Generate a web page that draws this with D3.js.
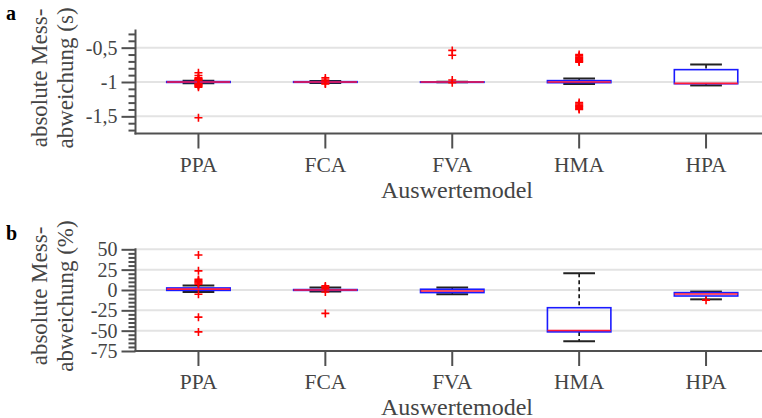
<!DOCTYPE html>
<html>
<head>
<meta charset="utf-8">
<script src="https://cdn.jsdelivr.net/npm/d3@7"></script>
<style>
  html, body { margin: 0; padding: 0; background: #fff; }
  svg { display: block; font-family: "Liberation Serif", "Times New Roman", serif; }
</style>
</head>
<body>
<svg id="chart" width="762" height="418"></svg>
<script>
// Evaluation models (x categories)
const models = ["PPA", "FCA", "FVA", "HMA", "HPA"];

// Panel a: absolute deviation in seconds – box statistics per model
const secLowWhisker = [-1.02, -1.015, -1.003, -1.03, -1.05];
const secQ1         = [-1.006, -1.005, -1.002, -1.01, -1.025];
const secMedian     = [-1.0, -1.0, -1.0, -1.0, -1.02];
const secQ3         = [-0.994, -0.995, -0.998, -0.98, -0.82];
const secHighWhisker= [-0.98, -0.985, -0.997, -0.95, -0.745];
const secOutliers = [
  [-0.865, -0.905, -0.94, -0.955, -0.965, -0.975, -1.025, -1.035, -1.045, -1.06, -1.075, -1.52],
  [-0.94, -0.97, -0.985, -1.02, -1.03],
  [-0.54, -0.61, -0.97, -1.01],
  [-0.6, -0.62, -0.64, -0.655, -0.67, -0.685, -0.7, -0.71, -1.3, -1.32, -1.34, -1.355, -1.37, -1.39, -1.4],
  []
];

// Panel b: absolute deviation in percent – box statistics per model
const pctLowWhisker = [-2.5, -2, -5.3, -63, -11.5];
const pctQ1         = [-0.5, -0.5, -3.2, -51.5, -7.4];
const pctMedian     = [1, 0, -1.2, -49.8, -5];
const pctQ3         = [2.5, 0.5, 0.9, -21.8, -3.2];
const pctHighWhisker= [5.5, 3, 3, 20.7, -2];
const pctOutliers = [
  [43, 23.5, 13, 11.5, 10, 8.5, 7, -5.3, -33.4, -51.5],
  [5, 3.5, 1.5, -2.5, -28.8],
  [],
  [],
  [-12.5]
];

// Axis ticks and labels
const secMajorTicks = [-0.5, -1, -1.5];
const secMajorLabels = ["-0,5", "-1", "-1,5"];
const secMinorTicks = [-0.3, -0.4, -0.6, -0.7, -0.8, -0.9, -1.1, -1.2, -1.3, -1.4, -1.6, -1.7];
const pctMajorTicks = [50, 25, 0, -25, -50, -75];
const pctMajorLabels = ["50", "25", "0", "-25", "-50", "-75"];
const pctMinorTicks = d3.range(-70, 50, 5).filter(v => v % 25 !== 0);

const xTitle = "Auswertemodel";

const svg = d3.select("#chart");
svg.append("rect").attr("width", 762).attr("height", 418).attr("fill", "#fff");

const axisColor = "#505050";
const textColor = "#444";

const x = d3.scaleBand().domain(models).range([135, 769.5]).padding(0);
const bw = x.bandwidth();
const cx = d => x(d) + bw / 2;

function panel(opts) {
  const g = svg.append("g");
  const y = d3.scaleLinear().domain(opts.domain).range(opts.range);
  const left = 135.5;

  // grid lines
  g.append("g").selectAll("line")
    .data(opts.grid)
    .join("line")
    .attr("x1", left).attr("x2", 762)
    .attr("y1", d => y(d)).attr("y2", d => y(d))
    .attr("stroke", "#e3e3e3").attr("stroke-width", 2);

  // boxes
  const rows = models.map((m, i) => ({
    m, lo: opts.lo[i], q1: opts.q1[i], med: opts.med[i], q3: opts.q3[i], hi: opts.hi[i], out: opts.out[i]
  }));
  const boxes = g.append("g").selectAll("g").data(rows).join("g");

  // whiskers (dashed)
  boxes.append("line")
    .attr("x1", d => cx(d.m)).attr("x2", d => cx(d.m))
    .attr("y1", d => y(d.hi)).attr("y2", d => y(d.q3))
    .attr("stroke", "#000").attr("stroke-width", 1.5).attr("stroke-dasharray", "4,3");
  boxes.append("line")
    .attr("x1", d => cx(d.m)).attr("x2", d => cx(d.m))
    .attr("y1", d => y(d.q1)).attr("y2", d => y(d.lo))
    .attr("stroke", "#000").attr("stroke-width", 1.5).attr("stroke-dasharray", "4,3");
  // whisker caps
  for (const key of ["hi", "lo"]) {
    boxes.append("line")
      .attr("x1", d => cx(d.m) - bw / 8).attr("x2", d => cx(d.m) + bw / 8)
      .attr("y1", d => y(d[key])).attr("y2", d => y(d[key]))
      .attr("stroke", "#222").attr("stroke-width", 2);
  }
  // box
  boxes.append("rect")
    .attr("x", d => cx(d.m) - bw / 4)
    .attr("width", bw / 2)
    .attr("y", d => y(d.q3))
    .attr("height", d => Math.max(0.5, y(d.q1) - y(d.q3)))
    .attr("fill", "none").attr("stroke", "#1a1aff").attr("stroke-width", 1.6);
  // median
  boxes.append("line")
    .attr("x1", d => cx(d.m) - bw / 4).attr("x2", d => cx(d.m) + bw / 4)
    .attr("y1", d => y(d.med)).attr("y2", d => y(d.med))
    .attr("stroke", "#ff1a3a").attr("stroke-width", 1.6);
  // outliers
  boxes.selectAll("path.out")
    .data(d => d.out.map(v => ({ m: d.m, v })))
    .join("path")
    .attr("class", "out")
    .attr("transform", d => `translate(${cx(d.m)},${y(d.v)})`)
    .attr("d", "M-4,0H4M0,-4V4")
    .attr("stroke", "#ff0000").attr("stroke-width", 1.6).attr("fill", "none");

  // y axis: minor ticks
  g.append("g")
    .attr("transform", `translate(${left},0)`)
    .call(d3.axisLeft(y).tickValues(opts.minor).tickSize(7).tickFormat(""))
    .call(a => a.select(".domain").remove())
    .call(a => a.selectAll("line").attr("stroke", axisColor).attr("stroke-width", 2));
  // y axis: major ticks with labels
  const yAxis = g.append("g")
    .attr("transform", `translate(${left},0)`)
    .call(d3.axisLeft(y).tickValues(opts.major).tickSize(14).tickPadding(4)
      .tickFormat((d, i) => opts.labels[i]))
    .call(a => a.select(".domain").remove());
  yAxis.selectAll("line").attr("stroke", axisColor).attr("stroke-width", 2);
  yAxis.selectAll("text").attr("fill", textColor).attr("font-size", 20)
    .attr("font-family", "Liberation Serif");
  g.append("line")
    .attr("x1", left).attr("x2", left)
    .attr("y1", opts.range[1] - 1).attr("y2", opts.range[0] + 1)
    .attr("stroke", axisColor).attr("stroke-width", 2);

  // x axis
  const base = opts.range[0];
  g.append("line")
    .attr("x1", left - 1).attr("x2", 762)
    .attr("y1", base).attr("y2", base)
    .attr("stroke", axisColor).attr("stroke-width", 2);
  g.append("g").selectAll("line").data(models).join("line")
    .attr("x1", d => cx(d)).attr("x2", d => cx(d))
    .attr("y1", base).attr("y2", base + 15)
    .attr("stroke", axisColor).attr("stroke-width", 2);
  g.append("g").selectAll("text").data(models).join("text")
    .attr("x", d => cx(d)).attr("y", base + 38)
    .attr("text-anchor", "middle")
    .attr("fill", textColor).attr("font-size", 21.5)
    .text(d => d);
  g.append("text")
    .attr("x", 457).attr("y", base + 64)
    .attr("text-anchor", "middle")
    .attr("fill", textColor).attr("font-size", 24)
    .text(xTitle);

  // y title, two lines
  const mid = opts.titleMid;
  opts.title.forEach((t, i) => {
    g.append("text")
      .attr("transform", `translate(${47 + i * 26},${mid}) rotate(-90)`)
      .attr("text-anchor", "middle")
      .attr("fill", textColor).attr("font-size", 23)
      .text(t);
  });

  // panel letter
  g.append("text")
    .attr("x", 6).attr("y", opts.letterY)
    .attr("font-weight", "bold").attr("font-size", 20).attr("fill", "#000")
    .text(opts.letter);
}

panel({
  domain: [-1.75, -0.25], range: [133.5, 30.5],
  grid: secMajorTicks, major: secMajorTicks, labels: secMajorLabels, minor: secMinorTicks,
  lo: secLowWhisker, q1: secQ1, med: secMedian, q3: secQ3, hi: secHighWhisker, out: secOutliers,
  title: ["absolute Mess-", "abweichung (s)"], titleMid: 78, letter: "a", letterY: 20
});

panel({
  domain: [-75, 50], range: [351, 249.3],
  grid: [50, 25, 0, -25, -50], major: pctMajorTicks, labels: pctMajorLabels, minor: pctMinorTicks,
  lo: pctLowWhisker, q1: pctQ1, med: pctMedian, q3: pctQ3, hi: pctHighWhisker, out: pctOutliers,
  title: ["absolute Mess-", "abweichung (%)"], titleMid: 296, letter: "b", letterY: 240
});
</script>
</body>
</html>
